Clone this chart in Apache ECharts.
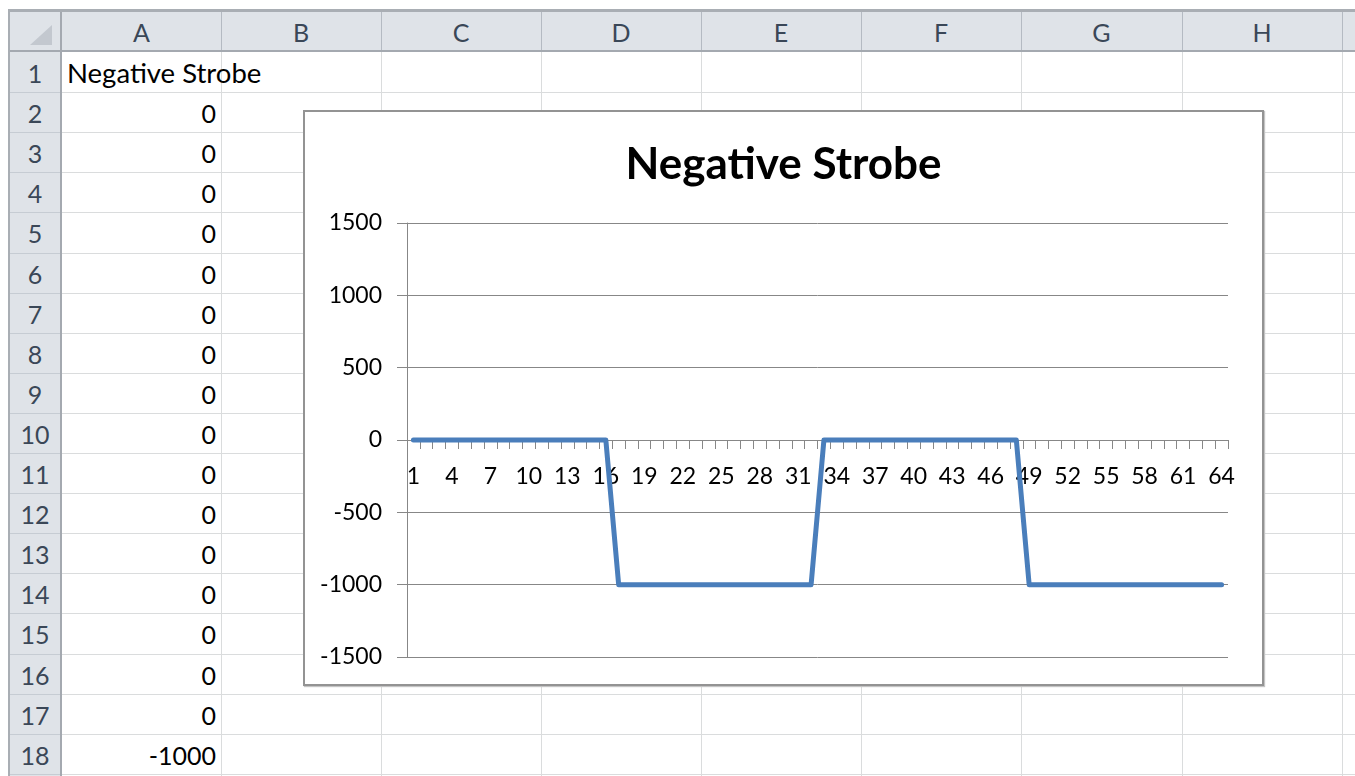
<!DOCTYPE html>
<html>
<head>
<meta charset="utf-8">
<script src="https://cdn.jsdelivr.net/npm/echarts@6/dist/echarts.min.js"></script>
<style>
  html, body { margin: 0; padding: 0; background: #fff; }
  #sheet { position: relative; width: 1355px; height: 776px; overflow: hidden; font-family: Lato, sans-serif; }
  .ln { position: absolute; }
  .hd { position: absolute; color: #3a4757; font-size: 25px; text-align: center; }
  .cell { position: absolute; color: #000; font-size: 25px; white-space: nowrap; }
  #chartBox { position: absolute; left: 303px; top: 110px; width: 961px; height: 576px; box-sizing: border-box;
    border: 2px solid #939393; background: #fff; box-shadow: 1px 1px 1px #c4c4c4; }
  #chart { width: 100%; height: 100%; }
</style>
</head>
<body>
<div id="sheet">
  <div id="chartBox"><div id="chart"></div></div>
</div>
<script>
// data
const seriesName = 'Negative Strobe'
const categories = [
  1, 2, 3, 4, 5, 6, 7, 8, 9, 10, 11, 12, 13, 14, 15, 16,
  17, 18, 19, 20, 21, 22, 23, 24, 25, 26, 27, 28, 29, 30, 31, 32,
  33, 34, 35, 36, 37, 38, 39, 40, 41, 42, 43, 44, 45, 46, 47, 48,
  49, 50, 51, 52, 53, 54, 55, 56, 57, 58, 59, 60, 61, 62, 63, 64
]
const strobe = [
  0, 0, 0, 0, 0, 0, 0, 0, 0, 0, 0, 0, 0, 0, 0, 0,
  -1000, -1000, -1000, -1000, -1000, -1000, -1000, -1000, -1000, -1000, -1000, -1000, -1000, -1000, -1000, -1000,
  0, 0, 0, 0, 0, 0, 0, 0, 0, 0, 0, 0, 0, 0, 0, 0,
  -1000, -1000, -1000, -1000, -1000, -1000, -1000, -1000, -1000, -1000, -1000, -1000, -1000, -1000, -1000, -1000
]
const yMin = -1500
const yMax = 1500
const yStep = 500
const columnNames = ['A', 'B', 'C', 'D', 'E', 'F', 'G', 'H', 'I']
const visibleRows = 18

// spreadsheet background (built from the same data)
const sheet = document.getElementById('sheet')
const colEdges = [62, 221, 381, 541, 701, 861, 1021, 1182, 1342, 1502]
const headTop = 12
const headBottom = 52
const rowH = 40.1

function box(cls, css, text) {
  const d = document.createElement('div')
  d.className = cls
  Object.assign(d.style, css)
  if (text !== undefined) d.textContent = text
  sheet.insertBefore(d, document.getElementById('chartBox'))
  return d
}

// header band + row number band
box('ln', { left: '10px', top: headTop + 'px', width: '1345px', height: (headBottom - headTop) + 'px', background: '#dfe3e8' })
box('ln', { left: '10px', top: headTop + 'px', width: '52px', height: '764px', background: '#dfe3e8' })
// outer frame lines
box('ln', { left: '8px', top: '9px', width: '1347px', height: '3px', background: '#a9aeb4' })
box('ln', { left: '8px', top: '9px', width: '2px', height: '767px', background: '#a9aeb4' })
// corner triangle
box('ln', { left: '30px', top: '25px', width: 0, height: 0, borderLeft: '22px solid transparent', borderBottom: '20px solid #c3c8cf' })

// cell grid lines
for (let i = 1; i < colEdges.length - 1; i++) {
  box('ln', { left: colEdges[i] + 'px', top: headBottom + 'px', width: '1px', height: '724px', background: '#dadcdd' })
  box('ln', { left: colEdges[i] + 'px', top: headTop + 'px', width: '1px', height: (headBottom - headTop) + 'px', background: '#b4bac2' })
}
for (let r = 1; r <= visibleRows; r++) {
  const y = Math.round(headBottom + r * rowH)
  box('ln', { left: '62px', top: y + 'px', width: '1293px', height: '1px', background: '#dadcdd' })
  box('ln', { left: '10px', top: y + 'px', width: '52px', height: '1px', background: '#c6ccd3' })
}
box('ln', { left: '10px', top: (headBottom - 2) + 'px', width: '1345px', height: '2px', background: '#a4a9b0' })
box('ln', { left: '60px', top: headTop + 'px', width: '2px', height: '764px', background: '#a4a9b0' })

// column letters
columnNames.forEach((c, i) => {
  box('hd', { left: colEdges[i] + 'px', width: (colEdges[i + 1] - colEdges[i]) + 'px', top: headTop + 'px',
    height: (headBottom - headTop) + 'px', lineHeight: (headBottom - headTop) + 'px' }, c)
})
// row numbers and column A values
for (let r = 1; r <= visibleRows; r++) {
  const top = headBottom + (r - 1) * rowH
  box('hd', { left: '10px', width: '50px', top: top + 'px', height: rowH + 'px', lineHeight: (rowH + 2) + 'px' }, String(r))
  if (r === 1) {
    box('cell', { left: '67px', top: top + 'px', lineHeight: (rowH + 2) + 'px', fontSize: '27.5px' }, seriesName)
  } else {
    box('cell', { left: '62px', width: '154px', textAlign: 'right', top: top + 'px', lineHeight: (rowH + 2) + 'px' }, String(strobe[r - 2]))
  }
}

// chart
const chart = echarts.init(document.getElementById('chart'))
const axisGrey = '#878787'
const gridTop = 111
const gridBottom = 27
const plotH = 572 - gridTop - gridBottom
// Excel crosses the category axis at 0, so shift it up from the bottom edge
const zeroOffset = -plotH * (0 - yMin) / (yMax - yMin)
chart.setOption({
  animation: false,
  textStyle: { fontFamily: 'Lato, sans-serif' },
  title: {
    text: seriesName,
    left: 'center',
    top: 26,
    textStyle: { fontSize: 44, fontWeight: 'bold', color: '#000', fontFamily: 'Lato, sans-serif' }
  },
  grid: {
    left: 102,
    top: gridTop,
    right: 34,
    bottom: gridBottom,
    outerBoundsMode: 'none',
    containLabel: false
  },
  xAxis: {
    type: 'category',
    data: categories,
    boundaryGap: true,
    position: 'bottom',
    offset: zeroOffset,
    axisLine: { onZero: false, lineStyle: { color: axisGrey, width: 1 } },
    axisTick: { show: true, interval: 0, length: 9, lineStyle: { color: axisGrey } },
    axisLabel: { interval: 2, margin: 25, fontSize: 23, color: '#000' },
    splitLine: { show: false }
  },
  yAxis: {
    type: 'value',
    min: yMin,
    max: yMax,
    interval: yStep,
    axisLine: { show: true, lineStyle: { color: axisGrey, width: 1 } },
    axisTick: { show: true, length: 10, lineStyle: { color: axisGrey } },
    axisLabel: { margin: 25, fontSize: 23, color: '#000', formatter: v => String(v) },
    splitLine: { show: true, lineStyle: { color: axisGrey, width: 1 } }
  },
  series: [{
    name: seriesName,
    type: 'line',
    data: strobe,
    symbol: 'none',
    lineStyle: { color: '#4a7ebb', width: 5, cap: 'round', join: 'round' }
  }]
})
</script>
</body>
</html>
